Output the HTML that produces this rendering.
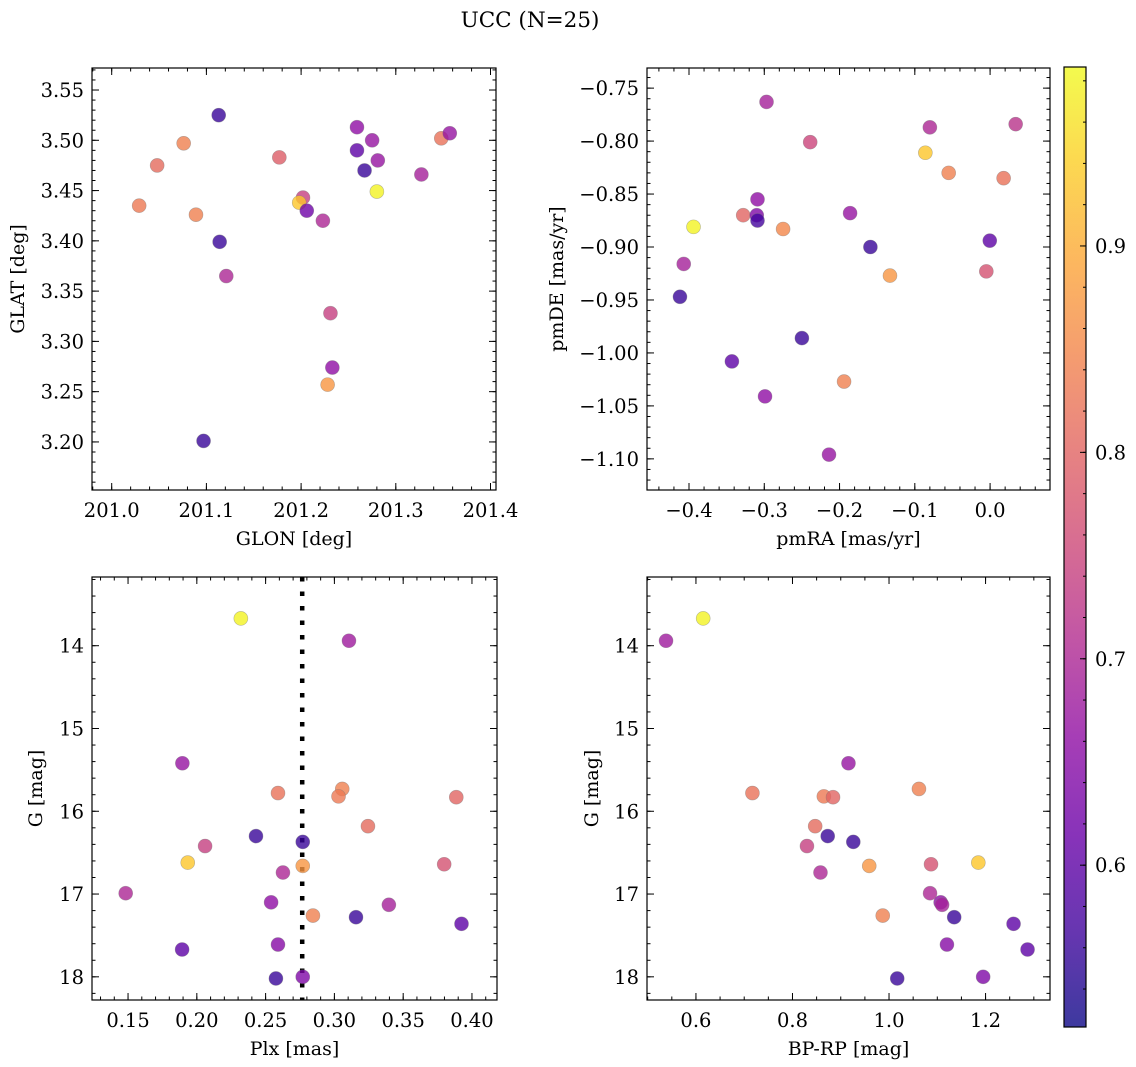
<!DOCTYPE html>
<html><head><meta charset="utf-8"><style>
body{margin:0;background:#fff;}
svg{display:block;font-family:"DejaVu Serif","Liberation Serif",serif;}
</style></head><body>
<svg id="fig" width="1136" height="1067" viewBox="0 0 1136 1067" xmlns="http://www.w3.org/2000/svg">
<text x="530" y="27" text-anchor="middle" font-size="21.5">UCC (N=25)</text>
</svg>
<script>
// Panel 1: GLON vs GLAT
const glon1=[201.113,201.076,201.048,201.029,201.089,201.114,201.121,201.097,201.177,201.202,201.198,201.206,201.223,201.231,201.233,201.228,201.259,201.259,201.275,201.281,201.267,201.280,201.327,201.348,201.357];
const glat1=[3.525,3.497,3.475,3.435,3.426,3.399,3.365,3.201,3.483,3.443,3.438,3.430,3.420,3.328,3.274,3.257,3.513,3.490,3.500,3.480,3.470,3.449,3.466,3.502,3.507];
const prob1=[0.56,0.84,0.81,0.83,0.84,0.56,0.70,0.56,0.79,0.74,0.93,0.62,0.70,0.74,0.66,0.87,0.66,0.60,0.67,0.67,0.56,0.98,0.69,0.82,0.67];
// Panel 2: pmRA vs pmDE
const pmra2=[-0.297,-0.239,-0.080,0.034,-0.086,-0.055,0.018,-0.309,-0.328,-0.310,-0.309,-0.394,-0.275,-0.186,-0.159,-0.0004,-0.133,-0.005,-0.407,-0.412,-0.250,-0.343,-0.194,-0.299,-0.214];
const pmde2=[-0.763,-0.801,-0.787,-0.784,-0.811,-0.830,-0.835,-0.855,-0.870,-0.870,-0.875,-0.881,-0.883,-0.868,-0.900,-0.894,-0.927,-0.923,-0.916,-0.947,-0.986,-1.008,-1.027,-1.041,-1.096];
const prob2=[0.69,0.75,0.70,0.72,0.93,0.84,0.82,0.66,0.80,0.64,0.57,0.98,0.85,0.67,0.56,0.60,0.87,0.77,0.69,0.56,0.56,0.60,0.84,0.66,0.67];
// Panel 3: Plx vs G
const plx3=[0.232,0.3106,0.1895,0.259,0.3057,0.303,0.3886,0.3244,0.243,0.277,0.206,0.1934,0.277,0.3798,0.2626,0.1483,0.254,0.3396,0.2844,0.3157,0.3924,0.259,0.1893,0.2575,0.277];
const gmag3=[13.67,13.94,15.42,15.78,15.73,15.82,15.83,16.18,16.30,16.37,16.42,16.62,16.66,16.64,16.74,16.99,17.10,17.13,17.26,17.28,17.36,17.61,17.67,18.02,18.00];
const prob3=[0.98,0.68,0.67,0.82,0.84,0.83,0.80,0.81,0.56,0.56,0.74,0.93,0.87,0.77,0.70,0.70,0.66,0.69,0.84,0.56,0.60,0.65,0.60,0.56,0.64];
const plxMedian=[0.2766];
// Panel 4: BP-RP vs G
const bprp4=[0.615,0.538,0.916,0.717,1.062,0.865,0.884,0.847,0.873,0.926,0.830,1.185,0.959,1.087,0.858,1.085,1.107,1.11,0.987,1.135,1.258,1.12,1.287,1.017,1.195];
const gmag4=[13.67,13.94,15.42,15.78,15.73,15.82,15.83,16.18,16.30,16.37,16.42,16.62,16.66,16.64,16.74,16.99,17.10,17.13,17.26,17.28,17.36,17.61,17.67,18.02,18.00];
const prob4=[0.98,0.68,0.67,0.82,0.84,0.83,0.80,0.81,0.56,0.56,0.74,0.93,0.87,0.77,0.70,0.70,0.66,0.69,0.84,0.56,0.60,0.65,0.60,0.56,0.64];
// Colorbar
const cbTicks=[0.6,0.7,0.8,0.9];
const cbMin=0.5216, cbMax=0.9867;

const NS="http://www.w3.org/2000/svg";
const fig=document.getElementById('fig');
function el(tag,attrs,parent){const e=document.createElementNS(NS,tag);for(const k in attrs)e.setAttribute(k,attrs[k]);(parent||fig).appendChild(e);return e;}
const plasma=[[13,8,135],[65,4,157],[106,0,168],[143,13,164],[177,42,144],[204,71,120],[225,100,98],[242,132,75],[252,166,54],[252,206,37],[240,249,33]];
function cmap(v){let t=(v-cbMin)/(cbMax-cbMin);t=Math.max(0,Math.min(1,t));const f=t*10,i=Math.min(9,Math.floor(f)),r=f-i;const a=plasma[i],b=plasma[i+1];return 'rgb('+[0,1,2].map(k=>Math.round(a[k]+(b[k]-a[k])*r)).join(',')+')';}
const TF=19.5, LF=19;

function panel(o){
  const g=el('g',{});
  
  
  const sx=v=>o.x0+(v-o.xmin)/(o.xmax-o.xmin)*(o.x1-o.x0);
  const sy=o.yinv?(v=>o.y0+(v-o.ymin)/(o.ymax-o.ymin)*(o.y1-o.y0)):(v=>o.y1-(v-o.ymin)/(o.ymax-o.ymin)*(o.y1-o.y0));
  const tg=el('g',{stroke:'#000','stroke-width':1},g);
  function ticks(min,max,step,len,isX,labels,fmt){
    const s=Math.ceil(min/step-1e-6);
    for(let k=s;k*step<=max+1e-9;k++){
      const v=k*step;
      if(isX){const x=sx(v);el('line',{x1:x,x2:x,y1:o.y1,y2:o.y1-len},tg);el('line',{x1:x,x2:x,y1:o.y0,y2:o.y0+len},tg);
        if(labels){const t=el('text',{x:x,y:o.y1+27,'text-anchor':'middle','font-size':TF,stroke:'none',fill:'#000'},g);t.textContent=fmt(v);
          
          }}
      else{const y=sy(v);el('line',{x1:o.x0,x2:o.x0+len,y1:y,y2:y},tg);el('line',{x1:o.x1,x2:o.x1-len,y1:y,y2:y},tg);
        if(labels){const t=el('text',{x:o.x0-8,y:y+7,'text-anchor':'end','font-size':TF,stroke:'none',fill:'#000'},g);t.textContent=fmt(v);
          
          }}
    }
  }
  ticks(o.xmin,o.xmax,o.xminor,3.5,true,false);
  ticks(o.xmin,o.xmax,o.xmajor,7,true,true,o.xfmt);
  ticks(o.ymin,o.ymax,o.yminor,3.5,false,false);
  ticks(o.ymin,o.ymax,o.ymajor,7,false,true,o.yfmt);
  if(o.vline){for(const v of o.vline){const x=sx(v);const l=el('line',{x1:x,x2:x,y1:o.y0,y2:o.y1,stroke:'#000','stroke-width':4.5,'stroke-dasharray':'4.5,10'},g);
    
    }}
  for(let i=0;i<o.xs.length;i++){
    const c=el('circle',{cx:sx(o.xs[i]),cy:sy(o.ys[i]),r:7,fill:cmap(o.cs[i]),'fill-opacity':0.8,stroke:'#777','stroke-opacity':0.5,'stroke-width':0.6},g);
    
    
  }
  const fr=el('rect',{x:o.x0,y:o.y0,width:o.x1-o.x0,height:o.y1-o.y0,fill:'none',stroke:'#000','stroke-width':1.2},g);
  
  
  const xl=el('text',{x:(o.x0+o.x1)/2,y:o.y1+55,'text-anchor':'middle','font-size':LF},g);xl.textContent=o.xlabel;
  
  
  const yl=el('text',{x:0,y:0,'text-anchor':'middle','font-size':LF,transform:'translate('+o.ylx+','+(o.y0+o.y1)/2+') rotate(-90)'},g);yl.textContent=o.ylabel;
  
  
}
const f2=v=>v.toFixed(2), f1=v=>v.toFixed(1), f0=v=>v.toFixed(0), fm=v=>(v<-1e-9?'\u2212':'')+Math.abs(v).toFixed(2), fm1=v=>(v<-1e-9?'\u2212':'')+Math.abs(v).toFixed(1);
panel({name:'glon-glat-panel',x0:92,x1:496,y0:68,y1:490,xmin:200.9792,xmax:201.4058,ymin:3.1522,ymax:3.5719,xmajor:0.1,xminor:0.02,ymajor:0.05,yminor:0.01,xfmt:f1,yfmt:f2,xs:glon1,ys:glat1,cs:prob1,xlabel:'GLON [deg]',ylabel:'GLAT [deg]',ylx:24});
panel({name:'pm-panel',x0:647,x1:1050,y0:68,y1:490,xmin:-0.4558,xmax:0.0796,ymin:-1.1294,ymax:-0.731,xmajor:0.1,xminor:0.02,ymajor:0.05,yminor:0.01,xfmt:fm1,yfmt:fm,xs:pmra2,ys:pmde2,cs:prob2,xlabel:'pmRA [mas/yr]',ylabel:'pmDE [mas/yr]',ylx:563});
panel({name:'plx-g-panel',x0:92,x1:497,y0:577,y1:1000,xmin:0.1238,xmax:0.4182,ymin:13.17,ymax:18.28,yinv:true,xmajor:0.05,xminor:0.01,ymajor:1,yminor:0.2,xfmt:f2,yfmt:f0,xs:plx3,ys:gmag3,cs:prob3,xlabel:'Plx [mas]',ylabel:'G [mag]',ylx:42,vline:plxMedian});
panel({name:'cmd-panel',x0:647,x1:1050,y0:577,y1:1000,xmin:0.4986,xmax:1.3335,ymin:13.17,ymax:18.28,yinv:true,xmajor:0.2,xminor:0.05,ymajor:1,yminor:0.2,xfmt:f1,yfmt:f0,xs:bprp4,ys:gmag4,cs:prob4,xlabel:'BP-RP [mag]',ylabel:'G [mag]',ylx:598});

// colorbar
const cbx0=1064,cbx1=1086,cby0=67,cby1=1027;
const cb=el('g',{});


const defs=el('defs',{},cb);
const lg=el('linearGradient',{id:'cbg',x1:0,y1:1,x2:0,y2:0},defs);
for(let i=0;i<=20;i++){const v=cbMin+(cbMax-cbMin)*i/20;el('stop',{offset:(i/20),'stop-color':cmap(v),'stop-opacity':0.8},lg);}
el('rect',{x:cbx0,y:cby0,width:cbx1-cbx0,height:cby1-cby0,fill:'url(#cbg)'},cb);
const cy=v=>cby1-(v-cbMin)/(cbMax-cbMin)*(cby1-cby0);
for(let v=0.54;v<cbMax;v+=0.02){const y=cy(v);el('line',{x1:cbx1,x2:cbx1-3,y1:y,y2:y,stroke:'#000'},cb);}
for(const v of cbTicks){const y=cy(v);el('line',{x1:cbx1,x2:cbx1-6,y1:y,y2:y,stroke:'#000'},cb);
  const t=el('text',{x:cbx1+9,y:y+7,'font-size':TF},cb);t.textContent=v.toFixed(1);
  
  }
el('rect',{x:cbx0,y:cby0,width:cbx1-cbx0,height:cby1-cby0,fill:'none',stroke:'#000','stroke-width':1.2},cb);
</script>
</body></html>
